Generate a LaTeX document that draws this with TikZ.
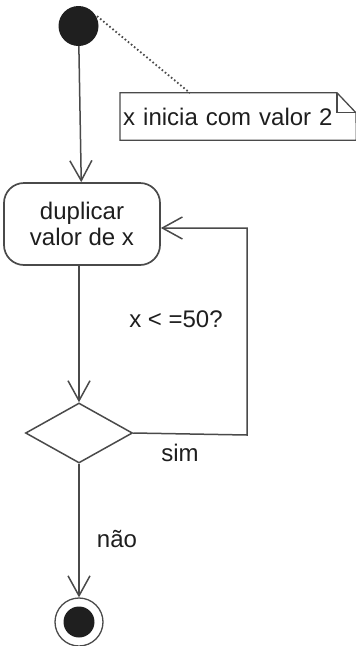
\documentclass[tikz,border=0pt]{standalone}
\usepackage{fontspec}
\setmainfont{Liberation Sans}
\usetikzlibrary{arrows.meta,shapes.geometric}
\definecolor{ln}{HTML}{4A4A4A}
\definecolor{tx}{HTML}{1E1E1E}
\tikzset{
  flow/.style={draw=ln, line width=1.5pt, -{Straight Barb[length=20pt,width=22pt,line width=1.5pt]}},
  plain/.style={draw=ln, line width=1.5pt},
  lbl/.style={text=tx, font=\fontsize{24}{28}\selectfont, inner sep=0pt},
  actbox/.style={draw=ln, line width=1.7pt, rounded corners=20pt, minimum width=156pt, minimum height=82pt, align=center, text=tx, font=\fontsize{24}{26}\selectfont, inner sep=0pt},
  decis/.style={diamond, draw=ln, line width=1.5pt, minimum width=107pt, minimum height=60pt, inner sep=0pt, aspect=1.78},
}
\begin{document}
\begin{tikzpicture}[x=1pt,y=-1pt]
\useasboundingbox (0,0) rectangle (356,646);
% start
\node[circle, fill=black!88, minimum size=40pt, inner sep=0pt] (start) at (78.5,26) {};
% note
\node[lbl, anchor=west, minimum width=236pt, minimum height=47pt, text width=230pt, align=left, inner xsep=3pt] (note) at (120,116.5) {x inicia com valor 2};
\draw[plain, line width=1.3pt] (note.north west) -- ++(217,0) coordinate (nf1) -- ++(19,20) coordinate (nf2) -- (note.south east) -- (note.south west) -- cycle;
\draw[plain, line width=1.3pt] (nf1) -- ++(0,20) -- (nf2);
\coordinate (nt) at (190,93);
\draw[ln, line width=1.8pt, dash pattern=on 1.6pt off 2.4pt] (start) ++(-28:21) -- (nt);
% action
\node[actbox] (act) at (82,224) {duplicar\\valor de x};
% decision
\node[decis] (dec) at (79,433) {};
% end
\node[circle, draw=ln, line width=1.3pt, minimum size=48pt, inner sep=0pt] (endo) at (79,622) {};
\node[circle, fill=black!88, minimum size=31pt, inner sep=0pt] (endi) at (79,622) {};
% flows
\draw[flow] (start) -- (act);
\draw[flow] (act.south -| dec.north) -- (dec.north);
\coordinate (c1) at (247,435);
\coordinate (c2) at (247,228);
\draw[flow] (dec.east) -- (c1) -- (c2) -- (act.east |- c2);
\draw[flow] (dec.south) -- (endo.north);
% labels
\node[lbl] (q) at (176,319) {x < =50?};
\node[lbl] (sim) at (180,453) {sim};
\node[lbl] (nao) at (117,539) {não};
\end{tikzpicture}
\end{document}
